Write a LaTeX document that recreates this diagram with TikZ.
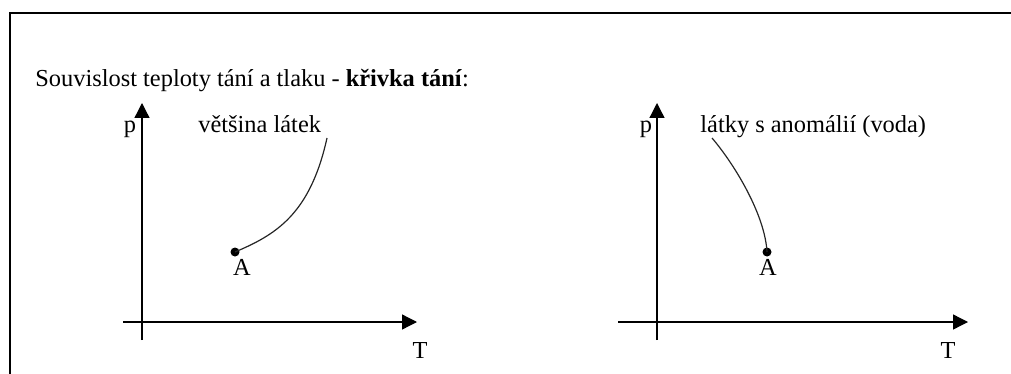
\documentclass[tikz,border=0pt]{standalone}
\usepackage{fontspec}
\setmainfont{Liberation Serif}
\usetikzlibrary{arrows.meta}

\begin{document}
\begin{tikzpicture}[
    x=0.5pt, y=-0.5pt,
    font=\fontsize{12.2}{14.5}\selectfont,
    osa/.style={-{Triangle[length=7.5pt,width=7.5pt]}, line width=0.65pt},
    krivka/.style={line width=0.6pt, black!85},
    bod/.style={circle, fill, inner sep=0pt, minimum size=4.5pt},
    popis/.style={anchor=base, inner sep=0pt},
  ]
  \useasboundingbox (0,0) rectangle (1011,374);
  % frame (open at right and bottom)
  \draw[line width=1pt] (10,374) -- (10,13) -- (1011,13);

  \node[anchor=base west, inner sep=0pt] (nadpis) at (35,87)
    {Souvislost teploty tání a tlaku - \textbf{křivka tání}:};

  % left graph: most substances
  \coordinate (x1a) at (123,322);
  \coordinate (x1b) at (417,322);
  \coordinate (y1a) at (142,340);
  \coordinate (y1b) at (142,103);
  \draw[osa] (x1a) -- (x1b);
  \draw[osa] (y1a) -- (y1b);
  \node[popis] (p1) at (130,133) {p};
  \node[popis] (T1) at (420,358) {T};
  \node[bod] (A1) at (235,252) {};
  \node[popis] (lA1) at (242,275) {A};
  \coordinate (k1) at (327,138);
  \draw[krivka] (A1.center) .. controls (275,235) and (310,215) .. (k1);
  \node[popis, anchor=base west] (lat1) at (198,133) {většina látek};

  % right graph: anomalous substances
  \coordinate (x2a) at (618,322);
  \coordinate (x2b) at (968,322);
  \coordinate (y2a) at (657,340);
  \coordinate (y2b) at (657,103);
  \draw[osa] (x2a) -- (x2b);
  \draw[osa] (y2a) -- (y2b);
  \node[popis] (p2) at (646,133) {p};
  \node[popis] (T2) at (948,358) {T};
  \node[bod] (A2) at (767,252) {};
  \node[popis] (lA2) at (768,275) {A};
  \coordinate (k2) at (712,138);
  \draw[krivka] (k2) .. controls (735,165) and (765,215) .. (A2.center);
  \node[popis, anchor=base west] (lat2) at (700,133) {látky s anomálií (voda)};
\end{tikzpicture}
\end{document}
